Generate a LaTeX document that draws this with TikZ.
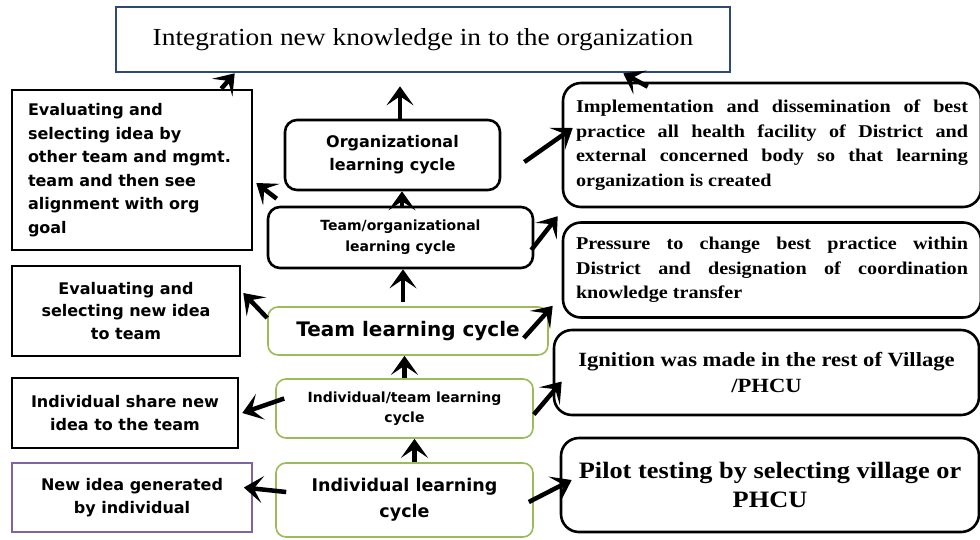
\documentclass[tikz,border=0pt]{standalone}
\usepackage{fontspec}
\newfontfamily\sansbx{DejaVu Sans}
\newfontfamily\serifbx[FakeStretch=1.12]{Liberation Serif}
\usetikzlibrary{arrows.meta}
\definecolor{navyline}{HTML}{2E4A72}
\definecolor{greenline}{HTML}{9BBB59}
\definecolor{purpleline}{HTML}{8064A2}
\begin{document}
\begin{tikzpicture}[x=1pt,y=-1pt,
  sqbox/.style={draw, line width=2.6pt, inner sep=0pt, align=center},
  rndbox/.style={draw, line width=2.6pt, rounded corners=12pt, inner sep=0pt, align=center},
  grnbox/.style={draw=greenline, line width=1.6pt, rounded corners=10pt, inner sep=0pt, align=center},
  arr/.style={line width=4.5pt, -{Stealth[length=19pt,width=27pt,inset=9pt]}}]
\useasboundingbox (0,0) rectangle (980,539);
\node[draw=navyline, line width=2.6pt, minimum width=614pt, minimum height=65pt, font=\serifbx\fontsize{24.5}{28}\selectfont] (top) at (423,39.5) {Integration new knowledge in to the organization};
\node[sqbox, minimum width=240pt, minimum height=160pt, text width=208pt, align=left, font=\sansbx\bfseries\fontsize{16}{23.5}\selectfont] (eval1) at (132,170) {Evaluating and\\selecting idea by\\other team and mgmt.\\team and then see\\alignment with org\\goal};
\node[rndbox, minimum width=215pt, minimum height=70pt, font=\sansbx\bfseries\fontsize{16}{23}\selectfont] (orgc) at (392.5,155) {Organizational\\learning cycle};
\node[rndbox, minimum width=265pt, minimum height=61pt, font=\sansbx\bfseries\fontsize{14}{21}\selectfont] (tor) at (400.5,237.5) {Team/organizational\\learning cycle};
\node[rndbox, rounded corners=18pt, minimum width=418pt, minimum height=124pt, text width=392pt, align=justify, font=\serifbx\bfseries\fontsize{18}{24.5}\selectfont] (impl) at (772,145) {\hyphenpenalty=10000\tolerance=10000\relax Implementation and dissemination of best\linebreak practice all health facility of District and\linebreak external concerned body so that learning\linebreak organization is created};
\node[rndbox, rounded corners=18pt, minimum width=418pt, minimum height=95pt, text width=392pt, align=justify, font=\serifbx\bfseries\fontsize{18}{24.5}\selectfont] (press) at (772,270) {\hyphenpenalty=10000\tolerance=10000\relax Pressure to change best practice within\linebreak District and designation of coordination\linebreak knowledge transfer};
\node[sqbox, minimum width=228pt, minimum height=90pt, font=\sansbx\bfseries\fontsize{16}{22.5}\selectfont] (evn) at (126,311) {Evaluating and\\selecting new idea\\to team};
\node[grnbox, minimum width=280pt, minimum height=48pt, font=\sansbx\bfseries\fontsize{20}{24}\selectfont] (team) at (408,331) {Team learning cycle};
\node[rndbox, rounded corners=18pt, minimum width=425pt, minimum height=85pt, font=\serifbx\bfseries\fontsize{20.2}{26}\selectfont] (ign) at (766.5,372.5) {Ignition was made in the rest of Village\\/PHCU};
\node[sqbox, minimum width=226pt, minimum height=70pt, font=\sansbx\bfseries\fontsize{16}{23}\selectfont] (share) at (125,413) {Individual share new\\idea to the team};
\node[grnbox, minimum width=257pt, minimum height=59pt, font=\sansbx\bfseries\fontsize{14}{20.5}\selectfont] (itl) at (404.5,408.5) {Individual/team learning\\cycle};
\node[rndbox, rounded corners=18pt, minimum width=418pt, minimum height=94pt, font=\serifbx\bfseries\fontsize{23.5}{29}\selectfont] (pilot) at (770,485) {Pilot testing by selecting village or\\PHCU};
\node[draw=purpleline, line width=1.6pt, inner sep=0pt, align=center, minimum width=240pt, minimum height=69pt, font=\sansbx\bfseries\fontsize{16}{23}\selectfont] (newi) at (132,497.5) {New idea generated\\by individual};
\node[grnbox, minimum width=257pt, minimum height=74pt, font=\sansbx\bfseries\fontsize{17.5}{26}\selectfont] (ilc) at (404.5,500) {Individual learning\\cycle};
\draw[arr] ([xshift=10pt]ilc.north) -- ([xshift=10pt]itl.south);
\draw[arr] (itl.north) -- ([xshift=-3.5pt]team.south);
\draw[arr] ([xshift=-5pt,yshift=4pt]team.north) -- ([xshift=2.5pt]tor.south);
\draw[arr] ([xshift=1.5pt]tor.north) -- ([xshift=9.5pt]orgc.south);
\draw[arr, shorten >=13pt] ([xshift=7.5pt]orgc.north) -- ([xshift=-23pt]top.south);
\draw[arr] ([xshift=-32pt]eval1.north east) -- ([xshift=120pt]top.south west);
\draw[arr] ([xshift=86pt,yshift=-5pt]impl.north west) -- ([xshift=-108pt]top.south east);
\draw[arr] ([xshift=23pt,yshift=-7pt]orgc.east) -- ([xshift=11pt,yshift=17pt]impl.west);
\draw[arr] ([xshift=-3pt,yshift=-12.5pt]tor.east) -- ([xshift=-4pt,yshift=5pt]press.north west);
\draw[arr] ([xshift=10pt,yshift=7pt]tor.north west) -- ([xshift=3pt,yshift=-13pt]eval1.east);
\draw[arr] ([yshift=13pt]team.west) -- ([xshift=2pt,yshift=18pt]evn.east);
\draw[arr] ([xshift=-25pt,yshift=-7pt]team.east) -- ([xshift=-9pt,yshift=13pt]press.south west);
\draw[arr] ([xshift=9pt,yshift=10pt]itl.west) -- ([xshift=3pt]share.east);
\draw[arr] ([yshift=-6pt]itl.east) -- ([xshift=9pt,yshift=-9pt]ign.west);
\draw[arr] ([xshift=11pt,yshift=8pt]ilc.west) -- ([xshift=-9pt,yshift=10pt]newi.east);
\draw[arr] ([xshift=-5pt,yshift=-2pt]ilc.east) -- ([xshift=12pt,yshift=5pt]pilot.west);
\end{tikzpicture}
\end{document}
